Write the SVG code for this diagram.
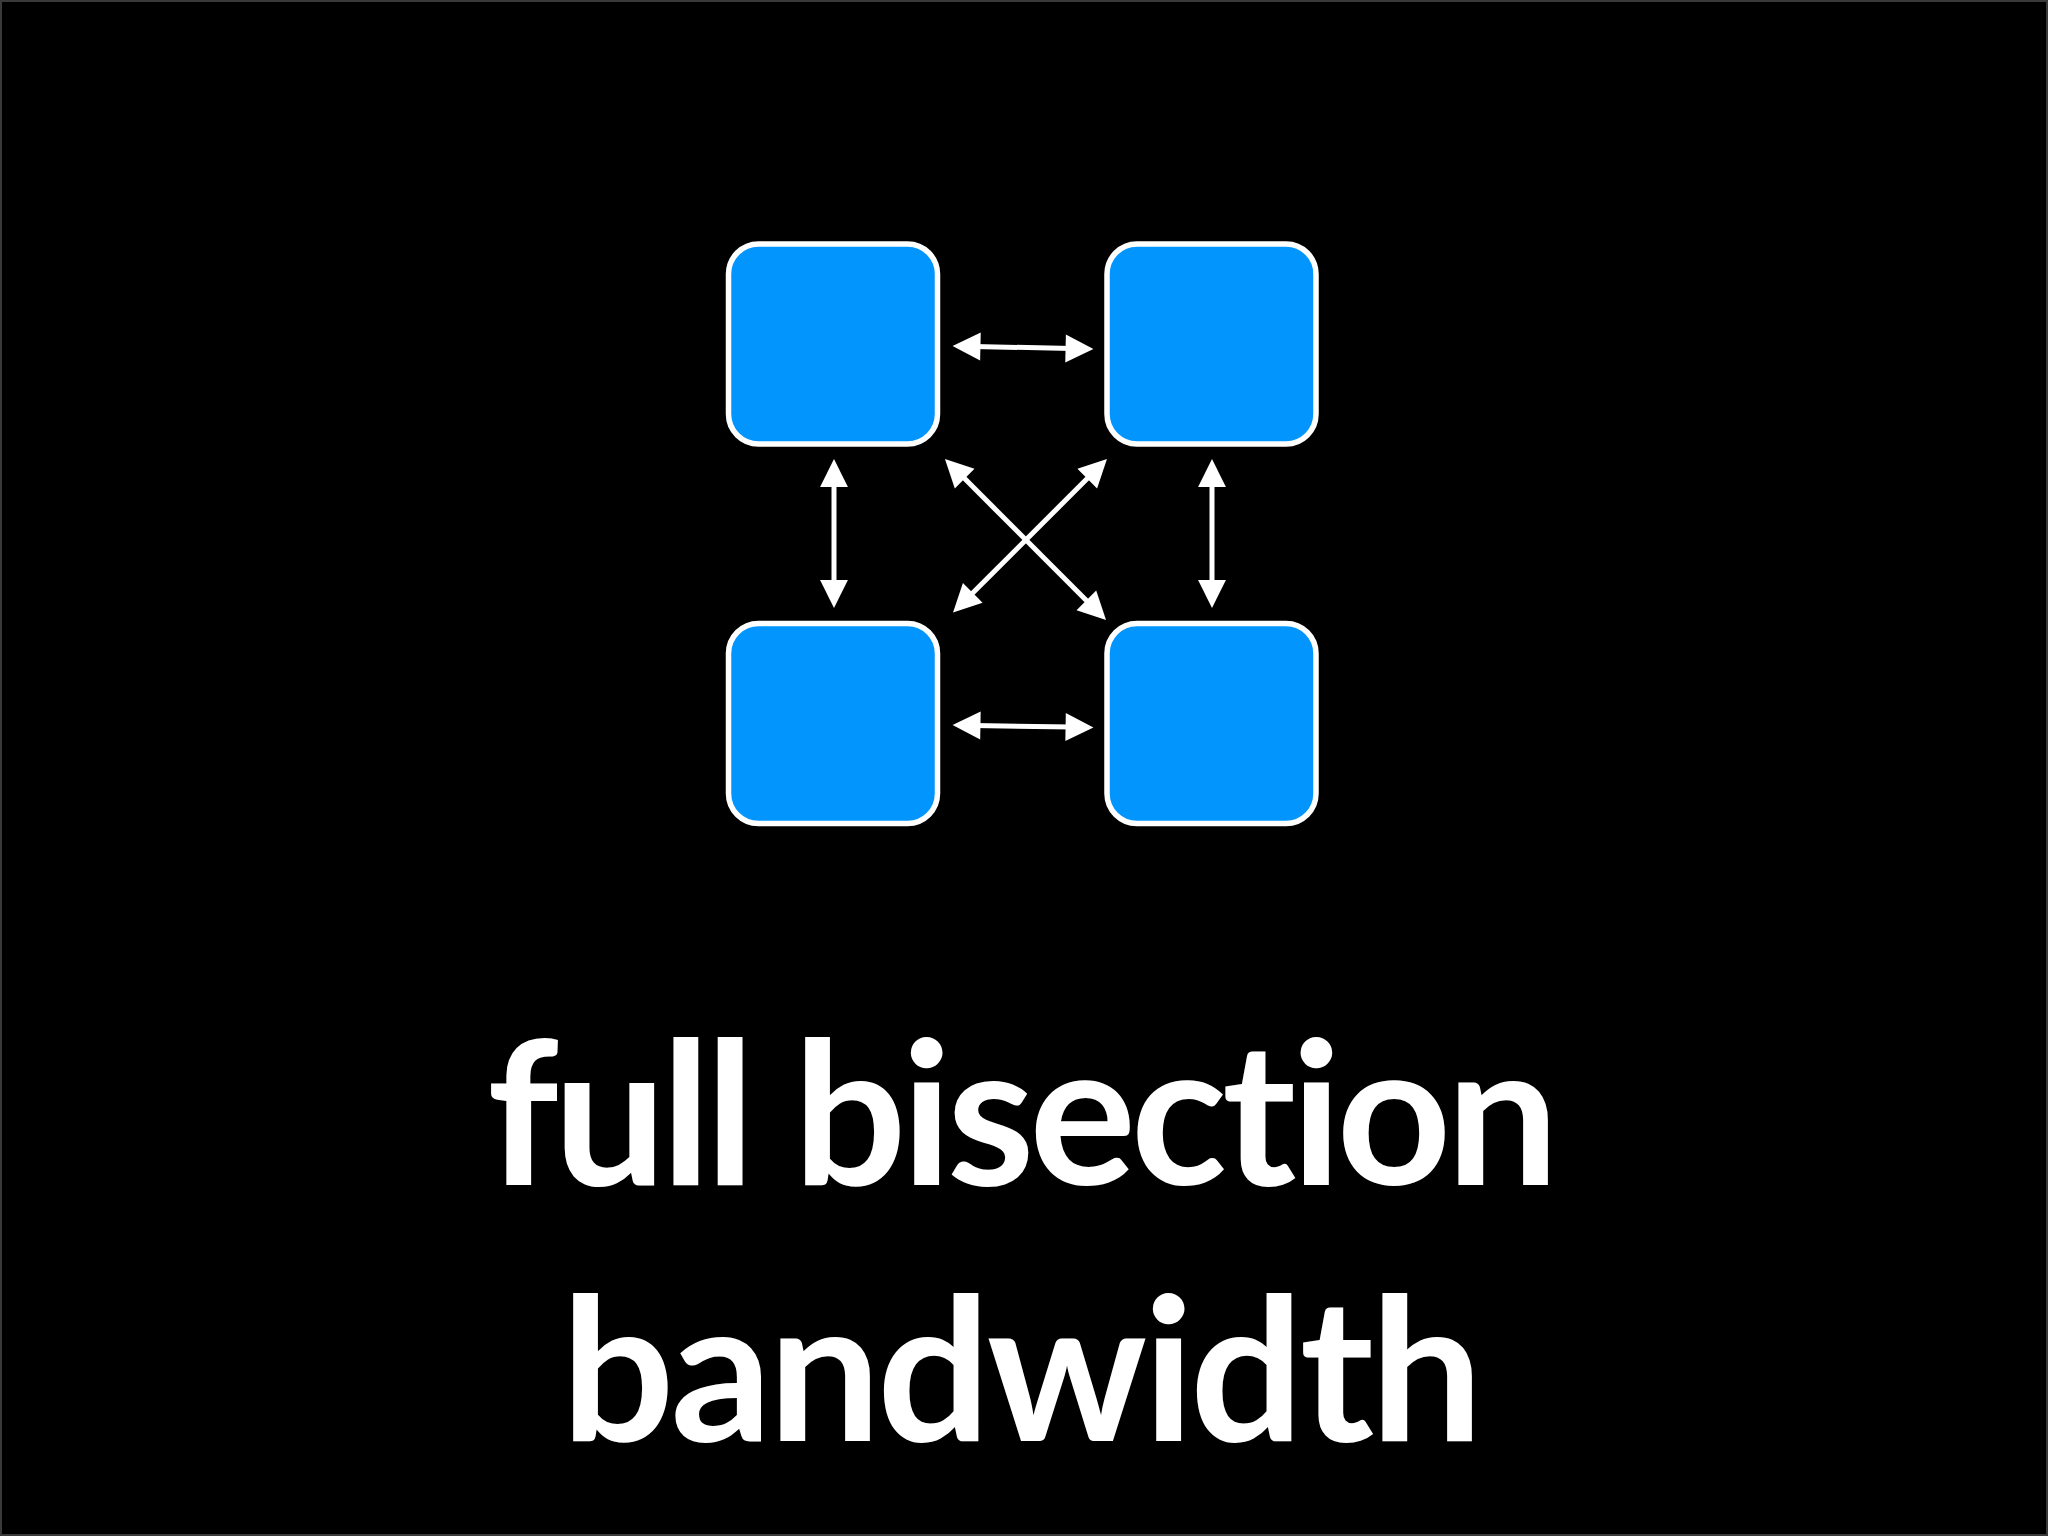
<svg xmlns="http://www.w3.org/2000/svg" width="2048" height="1536" viewBox="0 0 2048 1536">
<defs>
<style>
.node{fill:#0395FE;stroke:#FFFFFF;stroke-width:5.5}
.conn{stroke:#FFFFFF;stroke-width:5;fill:none;marker-start:url(#head);marker-end:url(#head)}
.label{font-family:Lato,"Liberation Sans",sans-serif;font-weight:bold;font-size:200px;fill:#FFFFFF;font-variant-ligatures:none;font-feature-settings:"liga" 0}
</style>
<marker id="head" markerUnits="userSpaceOnUse" markerWidth="30" markerHeight="30" viewBox="0 -14 27 28" refX="6" refY="0" orient="auto-start-reverse">
<path d="M0,-13 L26,0 L0,13 Z" fill="#FFFFFF"/>
</marker>
</defs>
<rect x="0" y="0" width="2048" height="1536" fill="#000000"/>
<rect x="1" y="1" width="2046" height="1534" fill="none" stroke="#3a3a3a" stroke-width="2"/>
<g id="node-top-left"><rect class="node" x="728.5" y="244" width="209" height="200" rx="30"/></g>
<g id="node-top-right"><rect class="node" x="1107" y="244" width="209" height="200" rx="30"/></g>
<g id="node-bottom-left"><rect class="node" x="728.5" y="623.5" width="209" height="200" rx="30"/></g>
<g id="node-bottom-right"><rect class="node" x="1107" y="623.5" width="209" height="200" rx="30"/></g>
<g id="connectors">
<line class="conn" x1="974" y1="346.4" x2="1072" y2="348.6"/>
<line class="conn" x1="974" y1="725.4" x2="1072" y2="727.1"/>
<line class="conn" x1="834" y1="480.5" x2="834" y2="586.5"/>
<line class="conn" x1="1212" y1="480.5" x2="1212" y2="586.5"/>
<line class="conn" x1="960.1" y1="474.1" x2="1090.9" y2="604.9"/>
<line class="conn" x1="1091.8" y1="474.1" x2="968.2" y2="597.4"/>
</g>
<g id="title">
<text class="label" x="487" y="1185" textLength="1072" lengthAdjust="spacing">full bisection</text>
<text class="label" x="561" y="1441" textLength="922" lengthAdjust="spacing">bandwidth</text>
</g>
</svg>
